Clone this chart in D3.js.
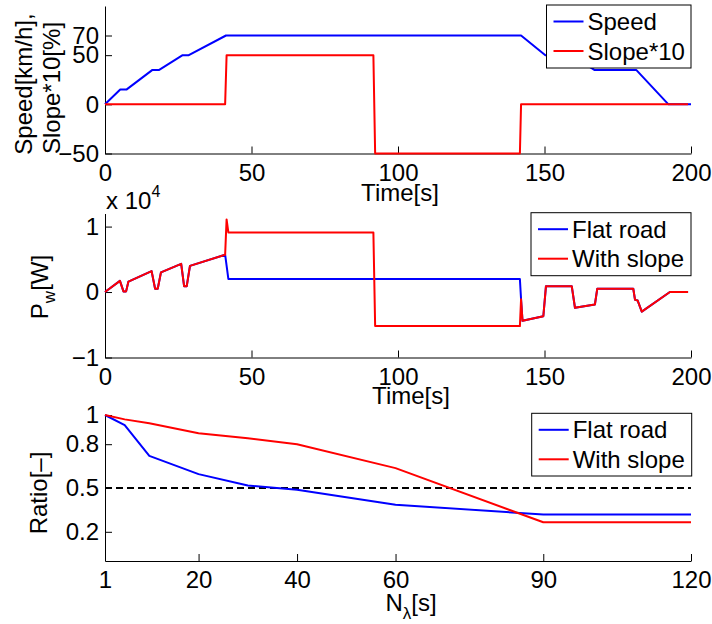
<!DOCTYPE html>
<html><head><meta charset="utf-8">
<script src="https://cdn.jsdelivr.net/npm/d3@7"></script>
<style>
body{margin:0;background:#fff}
svg{display:block;font-family:"Liberation Sans",Arial,sans-serif}
</style></head><body>
<svg id="c" width="712" height="624"></svg>
<script>
// ---- Panel 1: speed profile and slope ----
const speedTime = [0,5.2,7.3,16.2,18.5,26.5,28.6,41.3,142,150.3,159.3,167,181.3,192.3,200];
const speedValue = [0,15,15,35,35,50,50,70,70,50,50,35,35,0,0];
const slopeTime = [0,41,41.5,91.6,92.2,141.6,142,199];
const slopeValue = [0,0,50,50,-50,-50,0,0];

// ---- Panel 2: wheel power (x 10^4 W) ----
const flatTime = [0,5.1,6.3,7.2,8,15.9,17.1,18,19.1,26,27,27.9,29,41,42.1,141.6,142,142.5,149.6,150.5,159.3,160.4,167.2,168,180.3,180.9,181.8,183.2,192.8,199];
const flatPower = [0,0.17,0.01,0.01,0.16,0.32,0.05,0.05,0.3,0.43,0.09,0.09,0.4,0.57,0.2,0.2,-0.11,-0.44,-0.37,0.09,0.09,-0.24,-0.19,0.05,0.05,-0.12,-0.13,-0.3,0,0];
const slopePowTime = [0,5.1,6.3,7.2,8,15.9,17.1,18,19.1,26,27,27.9,29,41,41.5,42.1,91.6,92.2,141.6,142,142.5,149.6,150.5,159.3,160.4,167.2,168,180.3,180.9,181.8,183.2,192.8,199];
const slopePower = [0,0.17,0.01,0.01,0.16,0.32,0.05,0.05,0.3,0.43,0.09,0.09,0.4,0.57,1.11,0.91,0.91,-0.52,-0.52,-0.11,-0.44,-0.37,0.09,0.09,-0.24,-0.19,0.05,0.05,-0.12,-0.13,-0.3,0,0];

// ---- Panel 3: ratio vs N_lambda ----
const nLambda = [1,5,10,20,30,40,60,90,120];
const ratioFlat = [1,0.93,0.72,0.595,0.517,0.488,0.386,0.318,0.318];
const ratioSlope = [1,0.97,0.943,0.875,0.84,0.8,0.636,0.265,0.265];
const thresholdN = [1,120];
const thresholdRatio = [0.5,0.5];

// ---- Tick values ----
const timeTicks = [0,50,100,150,200];
const topYTicks = [-50,0,50,70];
const midYTicks = [-1,0,1];
const nTicks = [1,20,40,60,90,120];
const ratioTicks = [0.2,0.5,0.8,1];

const FS = 24;
const svg = d3.select("#c");
const fmt = d3.format("");

const xTime = d3.scaleLinear().domain([0,200]).range([105,691]);
const yTop = d3.scaleLinear().domain([-50,100]).range([153.5,6]);
const yMid = d3.scaleLinear().domain([-1,1.2]).range([357.5,213.5]);
const xN = d3.scaleLinear().domain([1,120]).range([105,691]);
const yBot = d3.scaleLinear().domain([0,1]).range([561,415]);

function axes(xs, ys, xt, yt) {
  const y0 = ys.range()[0];
  const gx = svg.append("g").attr("transform", `translate(0,${y0})`)
    .call(d3.axisBottom(xs).tickValues(xt).tickFormat(fmt).tickSizeInner(-7).tickSizeOuter(0).tickPadding(10));
  const gy = svg.append("g").attr("transform", `translate(${xs.range()[0]},0)`)
    .call(d3.axisLeft(ys).tickValues(yt).tickFormat(fmt).tickSizeInner(-7).tickSizeOuter(0).tickPadding(6));
  [gx, gy].forEach(g => {
    g.attr("font-size", FS).attr("font-family", null);
    g.selectAll("path,line").attr("stroke", "#000").attr("stroke-width", 1);
    g.selectAll("text").attr("fill", "#000");
  });
}

function line(xs, ys, X, Y, color, dash) {
  const pts = X.map((v, i) => [v, Y[i]]);
  const p = svg.append("path").datum(pts)
    .attr("fill", "none").attr("stroke", color).attr("stroke-width", 2)
    .attr("stroke-linejoin", "round")
    .attr("d", d3.line().x(d => xs(d[0])).y(d => ys(d[1])));
  if (dash) p.attr("stroke-dasharray", dash);
}

function legend(x, y, w, h, items) {
  const g = svg.append("g");
  g.append("rect").attr("x", x).attr("y", y).attr("width", w).attr("height", h)
    .attr("fill", "#fff").attr("stroke", "#000").attr("stroke-width", 1);
  items.forEach((it, i) => {
    const cy = y + 16.5 + i * 29.5;
    g.append("line").attr("x1", x + 7).attr("x2", x + 37).attr("y1", cy).attr("y2", cy)
      .attr("stroke", it.color).attr("stroke-width", 2);
    g.append("text").attr("x", x + 41).attr("y", cy + 8.5).attr("font-size", FS).text(it.label);
  });
}

// Panel 1
axes(xTime, yTop, timeTicks, topYTicks);
line(xTime, yTop, speedTime, speedValue, "#0000ff");
line(xTime, yTop, slopeTime, slopeValue, "#ff0000");
legend(546.5, 5, 144.5, 63, [{label:"Speed", color:"#0000ff"}, {label:"Slope*10", color:"#ff0000"}]);
svg.append("text").attr("x", 400).attr("y", 201).attr("text-anchor", "middle").attr("font-size", FS).text("Time[s]");
svg.append("text").attr("transform", "translate(32,84) rotate(-90)").attr("text-anchor", "middle").attr("font-size", FS).text("Speed[km/h],");
svg.append("text").attr("transform", "translate(60,88) rotate(-90)").attr("text-anchor", "middle").attr("font-size", FS).text("Slope*10[%]");

// Panel 2
axes(xTime, yMid, timeTicks, midYTicks);
line(xTime, yMid, flatTime, flatPower, "#0000ff");
line(xTime, yMid, slopePowTime, slopePower, "#ff0000");
legend(531, 212.7, 160, 63, [{label:"Flat road", color:"#0000ff"}, {label:"With slope", color:"#ff0000"}]);
svg.append("text").attr("x", 411).attr("y", 404).attr("text-anchor", "middle").attr("font-size", FS).text("Time[s]");
const xt = svg.append("text").attr("x", 106).attr("y", 209).attr("font-size", FS).text("x 10");
xt.append("tspan").attr("font-size", 16).attr("dy", -12).text("4");
const pl = svg.append("text").attr("transform", "translate(48,287) rotate(-90)").attr("text-anchor", "middle").attr("font-size", FS);
pl.append("tspan").text("P");
pl.append("tspan").attr("font-size", 17).attr("dy", 7).text("w");
pl.append("tspan").attr("dy", -7).text("[W]");

// Panel 3
axes(xN, yBot, nTicks, ratioTicks);
line(xN, yBot, thresholdN, thresholdRatio, "#000", "7,4");
line(xN, yBot, nLambda, ratioFlat, "#0000ff");
line(xN, yBot, nLambda, ratioSlope, "#ff0000");
legend(531.7, 413.3, 160, 62.7, [{label:"Flat road", color:"#0000ff"}, {label:"With slope", color:"#ff0000"}]);
const nl = svg.append("text").attr("x", 411).attr("y", 611).attr("text-anchor", "middle").attr("font-size", FS);
nl.append("tspan").text("N");
nl.append("tspan").attr("font-size", 17).attr("dy", 8).text("λ");
nl.append("tspan").attr("dy", -8).text("[s]");
svg.append("text").attr("transform", "translate(47,493) rotate(-90)").attr("text-anchor", "middle").attr("font-size", FS).text("Ratio[–]");
</script>
</body></html>
